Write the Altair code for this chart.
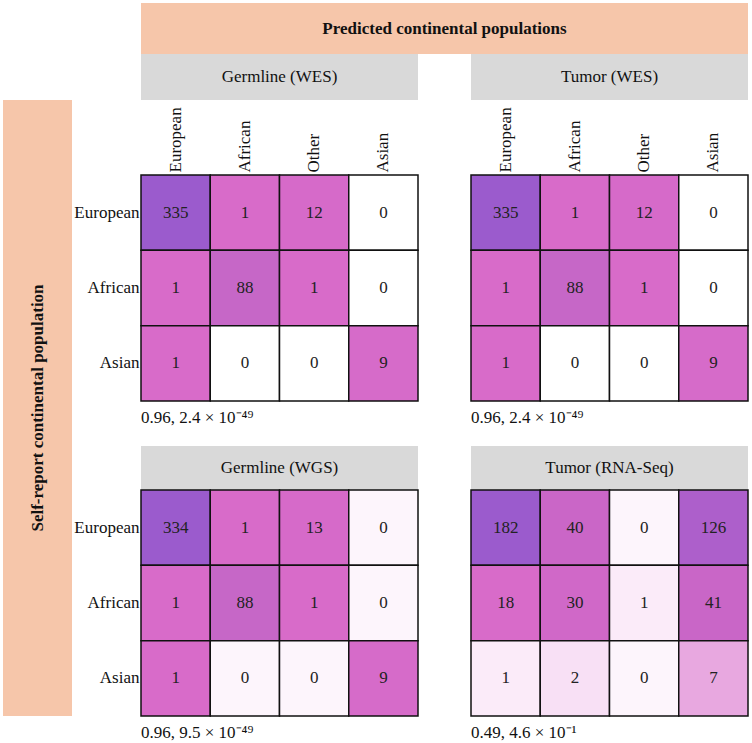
import altair as alt
import pandas as pd

FONT = "Liberation Serif"
ORANGE = "#f6c6aa"
GRAY = "#d9d9d9"

# ---------------- data ----------------
pred_cols = ["European", "African", "Other", "Asian"]
self_rows = ["European", "African", "Asian"]

germline_wes = [[335, 1, 12, 0], [1, 88, 1, 0], [1, 0, 0, 9]]
tumor_wes = [[335, 1, 12, 0], [1, 88, 1, 0], [1, 0, 0, 9]]
germline_wgs = [[334, 1, 13, 0], [1, 88, 1, 0], [1, 0, 0, 9]]
tumor_rna = [[182, 40, 0, 126], [18, 30, 1, 41], [1, 2, 0, 7]]

panel_titles = ["Germline (WES)", "Tumor (WES)", "Germline (WGS)", "Tumor (RNA-Seq)"]
panel_stats = [
    "0.96, 2.4 × 10⁻⁴⁹",
    "0.96, 2.4 × 10⁻⁴⁹",
    "0.96, 9.5 × 10⁻⁴⁹",
    "0.49, 4.6 × 10⁻¹",
]
top_header = "Predicted continental populations"
side_header = "Self-report continental population"

# colour scales (per panel)
wes_domain = [0, 1, 88, 335]
wes_range = ["#ffffff", "#d86bc9", "#c667c7", "#9b5bcd"]
wgs_domain = [0, 1, 88, 334]
wgs_range = ["#fdf5fc", "#d86bc9", "#c667c7", "#9b5bcd"]
rna_domain = [0, 1, 2, 7, 18, 41, 182]
rna_range = ["#fdf5fc", "#fbebf9", "#f8e0f5", "#e8a8e0", "#d86bc9", "#c966c7", "#9b5bcd"]

# layout sizes
W = 277          # panel width
H = 226          # heatmap height
GAP = 53         # gap between panel columns
LBL = 69         # room for row labels
BAND = 69        # left band width
TOP_H = 51       # top header height
GRAY1_H = 46
XLAB_H = 75
MID_H = 45
GRAY2_H = 44


def long_df(matrix):
    rows = []
    for i, r in enumerate(self_rows):
        for j, c in enumerate(pred_cols):
            rows.append({"self": r, "pred": c, "n": matrix[i][j]})
    return pd.DataFrame(rows)


def heat(matrix, stat, dom, rng, show_x, show_y):
    df = long_df(matrix)
    xax = (
        alt.Axis(orient="top", labelAngle=270, labelFontSize=17, labelFont=FONT,
                 labelColor="#111", ticks=False, domain=False, labelPadding=3, title=None)
        if show_x else None
    )
    yax = (
        alt.Axis(orient="left", labelFontSize=17, labelFont=FONT, labelColor="#111",
                 ticks=False, domain=False, labelPadding=2, title=None)
        if show_y else None
    )
    x = alt.X("pred:N", sort=pred_cols,
              scale=alt.Scale(domain=pred_cols, paddingInner=0, paddingOuter=0), axis=xax)
    y = alt.Y("self:N", sort=self_rows,
              scale=alt.Scale(domain=self_rows, paddingInner=0, paddingOuter=0), axis=yax)
    base = alt.Chart(df)
    rect = base.mark_rect(stroke="#111", strokeWidth=1.5).encode(
        x=x, y=y,
        color=alt.Color("n:Q", scale=alt.Scale(domain=dom, range=rng, interpolate="rgb"), legend=None),
    )
    txt = base.mark_text(fontSize=17, font=FONT, color="#222").encode(x=x, y=y, text="n:Q")
    return alt.layer(rect, txt).properties(
        width=W, height=H,
        title=alt.TitleParams(stat, orient="bottom", anchor="start", frame="group",
                              fontSize=17, fontWeight="normal", font=FONT, color="#111", offset=8),
    )


def hband(text, width, height, fill, bold=False):
    df = pd.DataFrame({"label": [text]})
    x = alt.X("label:N", axis=None, scale=alt.Scale(paddingInner=0, paddingOuter=0))
    rect = alt.Chart(df).mark_rect(color=fill).encode(x=x)
    txt = alt.Chart(df).mark_text(fontSize=17, font=FONT, color="#111",
                                  fontWeight="bold" if bold else "normal").encode(x=x, text="label:N")
    return alt.layer(rect, txt).properties(width=width, height=height)


def vband(text, width, height, fill):
    df = pd.DataFrame({"label": [text]})
    y = alt.Y("label:N", axis=None, scale=alt.Scale(paddingInner=0, paddingOuter=0))
    rect = alt.Chart(df).mark_rect(color=fill).encode(y=y)
    txt = alt.Chart(df).mark_text(fontSize=17, font=FONT, color="#111", fontWeight="bold",
                                  angle=270).encode(y=y, text="label:N")
    return alt.layer(rect, txt).properties(width=width, height=height)


def blank(width, height):
    return alt.Chart(pd.DataFrame({"label": [""]})).mark_text().encode(
        text="label:N").properties(width=width, height=height)


# ---- grid of panels (rows: gray header, x-label room, heatmap, gap, gray header, heatmap) ----
cells = [
    hband("", LBL, GRAY1_H, "#ffffff"), hband(panel_titles[0], W, GRAY1_H, GRAY),
    blank(GAP, GRAY1_H), hband(panel_titles[1], W, GRAY1_H, GRAY),

    blank(LBL, XLAB_H), blank(W, XLAB_H), blank(GAP, XLAB_H), blank(W, XLAB_H),

    blank(LBL, H), heat(germline_wes, panel_stats[0], wes_domain, wes_range, True, True),
    blank(GAP, H), heat(tumor_wes, panel_stats[1], wes_domain, wes_range, True, False),

    blank(LBL, MID_H), blank(W, MID_H), blank(GAP, MID_H), blank(W, MID_H),

    blank(LBL, GRAY2_H), hband(panel_titles[2], W, GRAY2_H, GRAY),
    blank(GAP, GRAY2_H), hband(panel_titles[3], W, GRAY2_H, GRAY),

    blank(LBL, H), heat(germline_wgs, panel_stats[2], wgs_domain, wgs_range, False, True),
    blank(GAP, H), heat(tumor_rna, panel_stats[3], rna_domain, rna_range, False, False),
]
grid = alt.concat(*cells, columns=4, spacing=0, bounds="flush", align="each").resolve_scale(
    color="independent")

left_col = alt.vconcat(hband("", BAND, GRAY1_H, "#ffffff"),
                       vband(side_header, BAND, XLAB_H + H + MID_H + GRAY2_H + H, ORANGE),
                       spacing=0, bounds="flush")

body = alt.hconcat(left_col, grid, spacing=0).resolve_scale(color="independent")

top_row = alt.hconcat(hband("", BAND + LBL, TOP_H, "#ffffff"),
                      hband(top_header, 2 * W + GAP, TOP_H, ORANGE, bold=True),
                      spacing=0, bounds="flush")

chart = alt.vconcat(top_row, body, spacing=0).resolve_scale(
    color="independent"
).properties(
    padding={"left": 3, "top": 3, "right": 0, "bottom": 0}
).configure(font=FONT).configure_view(strokeWidth=0)

chart.save("out.html", embed_options={"renderer": "svg", "actions": False})
